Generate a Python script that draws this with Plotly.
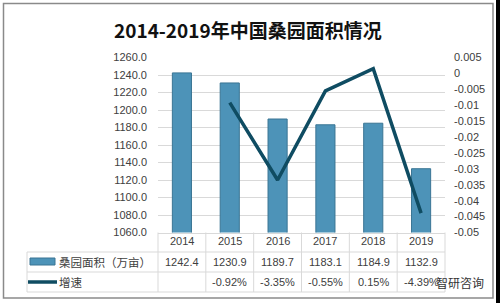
import plotly.graph_objects as go

# ---- data ----
years = ["2014", "2015", "2016", "2017", "2018", "2019"]
area = [1242.4, 1230.9, 1189.7, 1183.1, 1184.9, 1132.9]
growth = [None, -0.0092, -0.0335, -0.0055, 0.0015, -0.0439]
left_ticks = [1060, 1080, 1100, 1120, 1140, 1160, 1180, 1200, 1220, 1240, 1260]
right_ticks = [0.005, 0, -0.005, -0.01, -0.015, -0.02, -0.025, -0.03, -0.035, -0.04, -0.045, -0.05]
right_ticktext = ["0.005", "0", "-0.005", "-0.01", "-0.015", "-0.02", "-0.025",
                  "-0.03", "-0.035", "-0.04", "-0.045", "-0.05"]
title = "2014-2019年中国桑园面积情况"
series_bar = "桑园面积（万亩）"
series_line = "增速"
watermark = "智研咨询"

W, H = 500, 303
def px(x):
    return x / W
def py(y):
    return 1 - y / H

X0, X1 = 158, 445
Y_TOP, Y_BOT = 57.5, 232.5
BAR_COLOR = "#4D93B8"
LINE_COLOR = "#0F4C62"
GRID = "#D9D9D9"
TXT = "#404040"
FONT = "Liberation Sans"
CJK = "Noto Sans CJK SC"

fig = go.Figure()
fig.add_trace(go.Bar(
    x=years, y=area, width=0.4,
    marker=dict(color=BAR_COLOR, line=dict(color="#3A7594", width=1)),
    yaxis="y", showlegend=False,
))
fig.add_trace(go.Scatter(
    x=years[1:], y=growth[1:], mode="lines",
    line=dict(color=LINE_COLOR, width=3.5),
    yaxis="y2", showlegend=False,
))

shapes = []
annotations = []

ncol = len(years)
colw = (X1 - X0) / ncol
def colc(i):
    return px(X0 + (i + 0.5) * colw)

def note(x, y, text, size=11, family=FONT, color=TXT, xanchor="center"):
    annotations.append(dict(x=x, xref="paper", y=y, yref="paper", text=text,
                            xanchor=xanchor, yanchor="middle", showarrow=False,
                            font=dict(family=family, size=size, color=color)))

# table lines
line_style = dict(color=GRID, width=1)
for i in range(ncol + 1):
    xx = X0 + i * colw
    shapes.append(dict(type="line", xref="paper", yref="paper",
                       x0=px(xx), x1=px(xx), y0=py(Y_BOT), y1=py(292),
                       line=line_style))
shapes.append(dict(type="line", xref="paper", yref="paper",
                   x0=px(27), x1=px(27), y0=py(252), y1=py(292), line=line_style))
for yy in [252, 272, 292]:
    shapes.append(dict(type="line", xref="paper", yref="paper",
                       x0=px(27), x1=px(X1), y0=py(yy), y1=py(yy), line=line_style))

# legend swatches
shapes.append(dict(type="rect", xref="paper", yref="paper",
                   x0=px(30), x1=px(55), y0=py(258), y1=py(265),
                   fillcolor=BAR_COLOR, line=dict(color="#3A7594", width=1)))
shapes.append(dict(type="line", xref="paper", yref="paper",
                   x0=px(28), x1=px(57), y0=py(282), y1=py(282),
                   line=dict(color=LINE_COLOR, width=3.5)))

# outer frame
shapes.append(dict(type="rect", xref="paper", yref="paper",
                   x0=px(3.5), x1=px(493), y0=py(3.5), y1=py(298),
                   line=dict(color="#8A8A8A", width=1.5)))
shapes.append(dict(type="rect", xref="paper", yref="paper",
                   x0=px(496), x1=px(500), y0=0, y1=1,
                   fillcolor="#000000", line=dict(width=0)))

# table text
for i, yr in enumerate(years):
    note(colc(i), py(241), yr)
    note(colc(i), py(262), f"{area[i]:.1f}")
    if growth[i] is not None:
        note(colc(i), py(282), f"{growth[i]*100:.2f}%")

note(px(57), py(262), series_bar, size=11.5, family=CJK, xanchor="left")
note(px(57), py(282), series_line, size=11.5, family=CJK, xanchor="left")

# title
note(px(248), py(30), f"<b>{title}</b>", size=19, family=CJK, color="#111111")

# watermark
note(px(460), py(282), watermark, size=12, family=CJK, color="#333333")

fig.update_layout(
    width=W, height=H,
    margin=dict(l=0, r=0, t=0, b=0, autoexpand=False),
    paper_bgcolor="white", plot_bgcolor="white",
    xaxis=dict(domain=[px(X0), px(X1)], type="category", range=[-0.5, 5.5],
               showticklabels=False, showgrid=False, zeroline=False, automargin=False,
               showline=True, linecolor=GRID, linewidth=1, fixedrange=True),
    yaxis=dict(domain=[py(Y_BOT), py(Y_TOP)], range=[1060, 1260], automargin=False,
               tickvals=left_ticks, ticktext=[f"{v:.1f}" for v in left_ticks],
               showgrid=True, gridcolor=GRID, gridwidth=1, zeroline=False,
               ticks="", ticklabelstandoff=10,
               tickfont=dict(family=FONT, size=11, color=TXT)),
    yaxis2=dict(overlaying="y", side="right", range=[-0.05, 0.005], automargin=False,
                tickvals=right_ticks, ticktext=right_ticktext,
                showgrid=False, zeroline=False, ticks="", ticklabelstandoff=8,
                tickfont=dict(family=FONT, size=11, color=TXT)),
    shapes=shapes,
    annotations=annotations,
)

fig.write_html("out.html")
